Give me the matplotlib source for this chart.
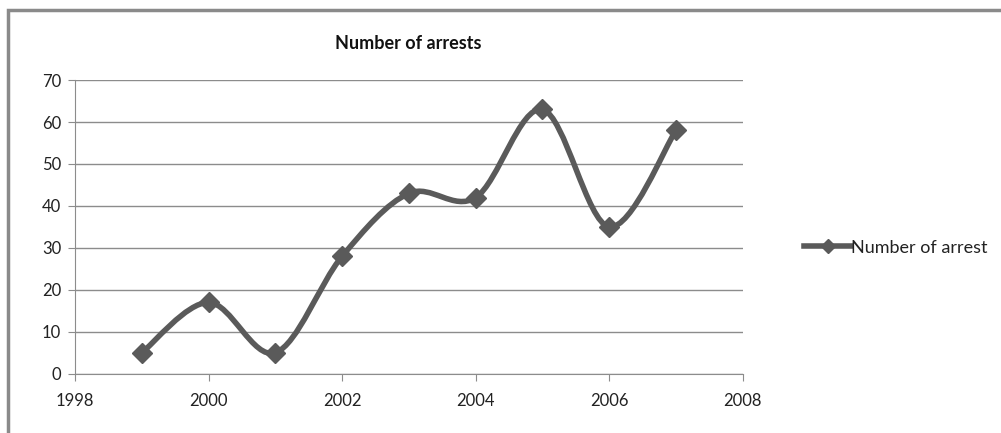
import numpy as np
import matplotlib.pyplot as plt
from matplotlib.path import Path
from matplotlib.patches import PathPatch, Rectangle
from matplotlib.lines import Line2D

plt.rcParams['font.family'] = ['Lato', 'DejaVu Sans']

# data
years = [1999, 2000, 2001, 2002, 2003, 2004, 2005, 2006, 2007]
arrests = [5, 17, 5, 28, 43, 42, 63, 35, 58]
x_ticks = [1998, 2000, 2002, 2004, 2006, 2008]
y_ticks = [0, 10, 20, 30, 40, 50, 60, 70]

line_col = '#5a5a5a'
grid_col = '#8c8c8c'

fig = plt.figure(figsize=(10.01, 4.33), dpi=100)
ax = fig.add_axes([0.075, 0.137, 0.667, 0.678])

# Excel-style smoothed line: cubic bezier segments through the data points
pts = np.column_stack([years, arrests]).astype(float)
ext = np.vstack([pts[0], pts, pts[-1]])
verts = [tuple(pts[0])]
codes = [Path.MOVETO]
for i in range(len(pts) - 1):
    p0, p1, p2, p3 = ext[i], ext[i + 1], ext[i + 2], ext[i + 3]
    c1 = p1 + (p2 - p0) / 6
    c2 = p2 - (p3 - p1) / 6
    verts += [tuple(c1), tuple(c2), tuple(p2)]
    codes += [Path.CURVE4] * 3
ax.add_patch(PathPatch(Path(verts, codes), facecolor='none', edgecolor=line_col,
                       lw=4, capstyle='round', joinstyle='round', zorder=3))
ax.plot(years, arrests, ls='none', marker='D', ms=10, color=line_col, zorder=4)

ax.set_xlim(1998, 2008)
ax.set_ylim(0, 70)
ax.set_xticks(x_ticks)
ax.set_yticks(y_ticks)
ax.yaxis.grid(True, color=grid_col, lw=1)
ax.set_axisbelow(True)
for s in ['top', 'right']:
    ax.spines[s].set_visible(False)
for s in ['left', 'bottom']:
    ax.spines[s].set_color(grid_col)
ax.tick_params(axis='both', colors=grid_col, labelcolor='#222222', labelsize=12,
               length=5, direction='out')
ax.tick_params(axis='x', pad=9)
ax.tick_params(axis='y', pad=5)

fig.text(0.408, 0.9, 'Number of arrests', ha='center', va='center',
         fontsize=13, fontweight='bold', color='#111111')

handle = Line2D([], [], color=line_col, lw=4, marker='D', ms=7)
fig.legend([handle], ['Number of arrest'], loc='center left',
           bbox_to_anchor=(0.787, 0.428), frameon=False, fontsize=13,
           handlelength=2.6, handletextpad=0.0, labelcolor='#222222')

# outer chart frame, running off the right and bottom edges
fig.add_artist(Rectangle((8 / 1001, -0.5), 2, 1.5 - 10 / 433,
                         transform=fig.transFigure, fill=False,
                         edgecolor='#8a8a8a', lw=2.5))

fig.savefig('out.png', dpi=100)
